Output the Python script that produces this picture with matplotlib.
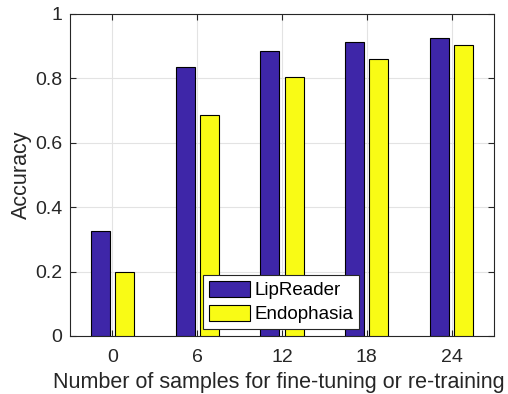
import matplotlib
matplotlib.use("Agg")
import matplotlib.pyplot as plt
import numpy as np

categories = ["0", "6", "12", "18", "24"]
lipreader = [0.326, 0.836, 0.884, 0.914, 0.926]
endophasia = [0.198, 0.687, 0.803, 0.860, 0.905]
yticks = [0, 0.2, 0.4, 0.6, 0.8, 1]
ytick_labels = ["0", "0.2", "0.4", "0.6", "0.8", "1"]

plt.rcParams['font.family'] = ['Liberation Sans', 'DejaVu Sans']

fig = plt.figure(figsize=(5.08, 3.94), dpi=100)
ax = fig.add_axes([70/508, 1-336/394, (494-70)/508, (336-14)/394])

x = np.arange(len(categories))
w = 0.225
off = 0.143
ax.bar(x - off, lipreader, w, color='#3E26A8', edgecolor='black', linewidth=0.8, label='LipReader', zorder=3)
ax.bar(x + off, endophasia, w, color='#F9FB15', edgecolor='black', linewidth=0.8, label='Endophasia', zorder=3)

ax.set_xlim(-0.5, 4.5)
ax.set_ylim(0, 1)
ax.set_xticks(x)
ax.set_xticklabels(categories)
ax.set_yticks(yticks)
ax.set_yticklabels(ytick_labels)
ax.grid(True, color='#e3e3e3', linewidth=0.8, zorder=0)
ax.set_axisbelow(True)
ax.tick_params(direction='in', top=True, right=True, length=4, width=0.8, labelsize=14, colors='#262626')
ax.tick_params(axis='x', pad=9)
ax.tick_params(axis='y', pad=5.5)
for s in ax.spines.values():
    s.set_color('#262626')
    s.set_linewidth(0.8)
ax.set_xlabel('Number of samples for fine-tuning or re-training', fontsize=15.5, color='#262626', labelpad=5)
ax.xaxis.label.set_x((278.5-70)/424)
ax.set_ylabel('Accuracy', fontsize=15.5, color='#262626', labelpad=2)

leg = ax.legend(loc='lower left', bbox_to_anchor=((203-70)/424, (336-329)/322), fontsize=13.5,
                frameon=True, fancybox=False, edgecolor='#262626', framealpha=1,
                handlelength=2.22, handleheight=0.94, handletextpad=0.23, borderpad=0.3, labelspacing=0.3,
                borderaxespad=0)
leg.get_frame().set_linewidth(0.8)

fig.savefig('out.png', dpi=100)
